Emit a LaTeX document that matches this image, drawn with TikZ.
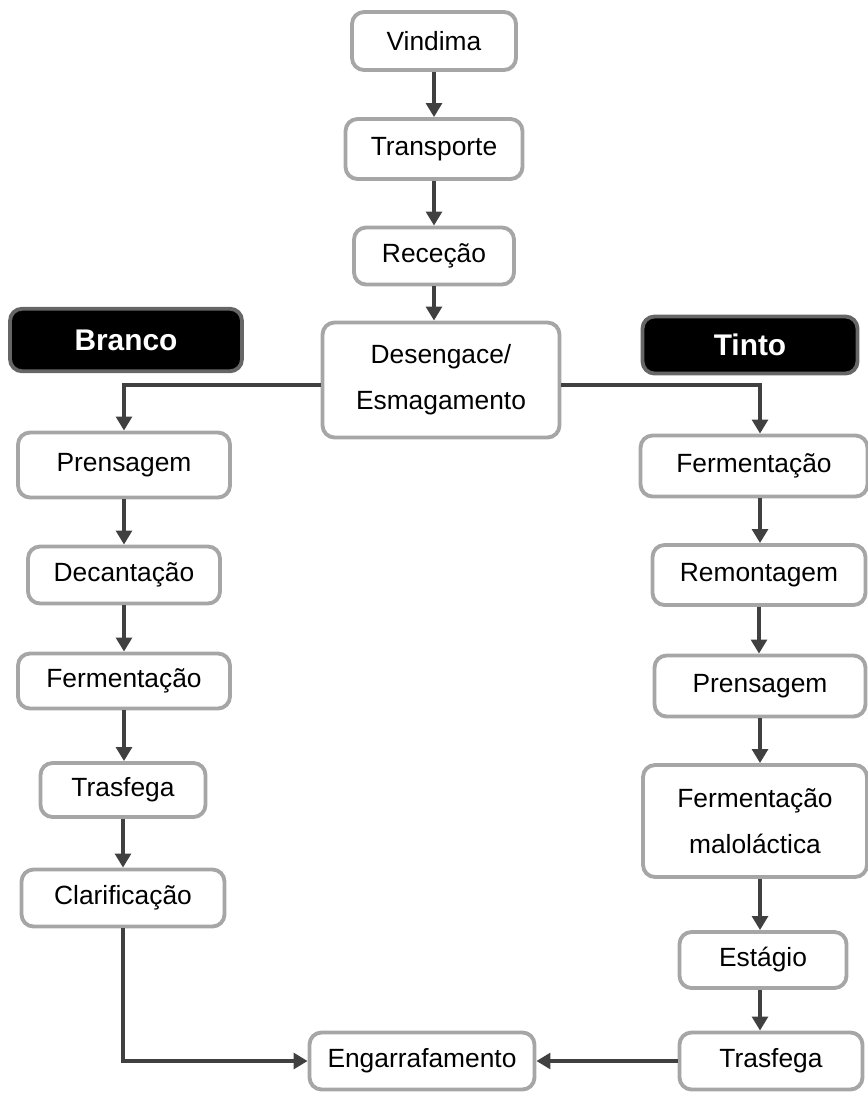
\documentclass[tikz,border=0pt]{standalone}
\usepackage{fontspec}
\setmainfont{Liberation Sans}
\usetikzlibrary{arrows.meta}
\definecolor{boxgray}{HTML}{A6A6A6}
\definecolor{arrowgray}{HTML}{404040}
\begin{document}
\begin{tikzpicture}
          [x=0.02cm,y=-0.02cm,
           stepbox/.style={draw=boxgray, line width=2.2pt, rounded corners=0.24cm, fill=white,
             inner sep=0pt, align=center, font=\fontsize{15}{26}\selectfont},
           headbox/.style={draw=black!60, line width=2.2pt, rounded corners=0.24cm, fill=black,
             text=white, inner sep=0pt, font=\fontsize{17}{20}\selectfont\bfseries,
             minimum height=1.25cm},
           flow/.style={draw=arrowgray, line width=2.2pt, -{Triangle[length=8pt,width=9pt]}}]
        \useasboundingbox (0,0) rectangle (867,1093);

        % tronco comum
        \node[stepbox, minimum width=3.28cm, minimum height=1.16cm] (vin) at (434,41) {Vindima};
        \node[stepbox, minimum width=3.54cm, minimum height=1.2cm] (tra) at (434,149) {Transporte};
        \node[stepbox, minimum width=3.2cm, minimum height=1.14cm] (rec) at (434,256) {Receção};
        \node[stepbox, minimum width=4.74cm, minimum height=2.3cm] (des) at (441,380) {Desengace/\\Esmagamento};

        \node[headbox, minimum width=4.64cm] (bra) at (126,340) {Branco};
        \node[headbox, minimum width=4.3cm, minimum height=1.14cm] (tin) at (750,345) {Tinto};

        % branco
        \node[stepbox, minimum width=4.24cm, minimum height=1.3cm] (bpre) at (124,465) {Prensagem};
        \node[stepbox, minimum width=3.84cm, minimum height=1.14cm] (bdec) at (124,575) {Decantação};
        \node[stepbox, minimum width=4.24cm, minimum height=1.1cm] (bfer) at (124,681) {Fermentação};
        \node[stepbox, minimum width=3.3cm, minimum height=1.08cm] (btra) at (123,790) {Trasfega};
        \node[stepbox, minimum width=4.06cm, minimum height=1.14cm] (bcla) at (123,898) {Clarificação};

        % tinto
        \node[stepbox, minimum width=4.54cm, minimum height=1.22cm] (tfer) at (754,466) {Fermentação};
        \node[stepbox, minimum width=4.26cm, minimum height=1.2cm] (trem) at (759,575) {Remontagem};
        \node[stepbox, minimum width=4.22cm, minimum height=1.22cm] (tpre) at (760,686) {Prensagem};
        \node[stepbox, minimum width=4.48cm, minimum height=2.24cm] (tmal) at (755,821) {Fermentação\\maloláctica};
        \node[stepbox, minimum width=3.34cm, minimum height=1.12cm] (test) at (763,960) {Estágio};
        \node[stepbox, minimum width=3.66cm, minimum height=1.14cm] (ttra) at (771,1061) {Trasfega};

        \node[stepbox, minimum width=4.5cm, minimum height=1.14cm] (eng) at (422,1061) {Engarrafamento};

        \foreach \from/\to in {vin/tra, tra/rec, rec/des, bpre/bdec, bdec/bfer, bfer/btra, btra/bcla,
                               trem/tpre, tpre/tmal}
          \draw[flow] (\from.south) -- (\from.south |- \to.north);
        % setas do tinto alinhadas em x = 761
        \foreach \from/\to in {tfer/trem, tmal/test, test/ttra}
          \draw[flow] (\from.south -| tpre) -- (tpre |- \to.north);

        \draw[flow] ([yshift=-0.1cm]des.west) -| (bpre.north);
        \draw[flow] ([yshift=-0.1cm]des.east) -| (tpre |- tfer.north);
        \draw[flow] (bcla.south) |- (eng.west);
        \draw[flow] (ttra.west) -- (eng.east);
      \end{tikzpicture}
\end{document}
